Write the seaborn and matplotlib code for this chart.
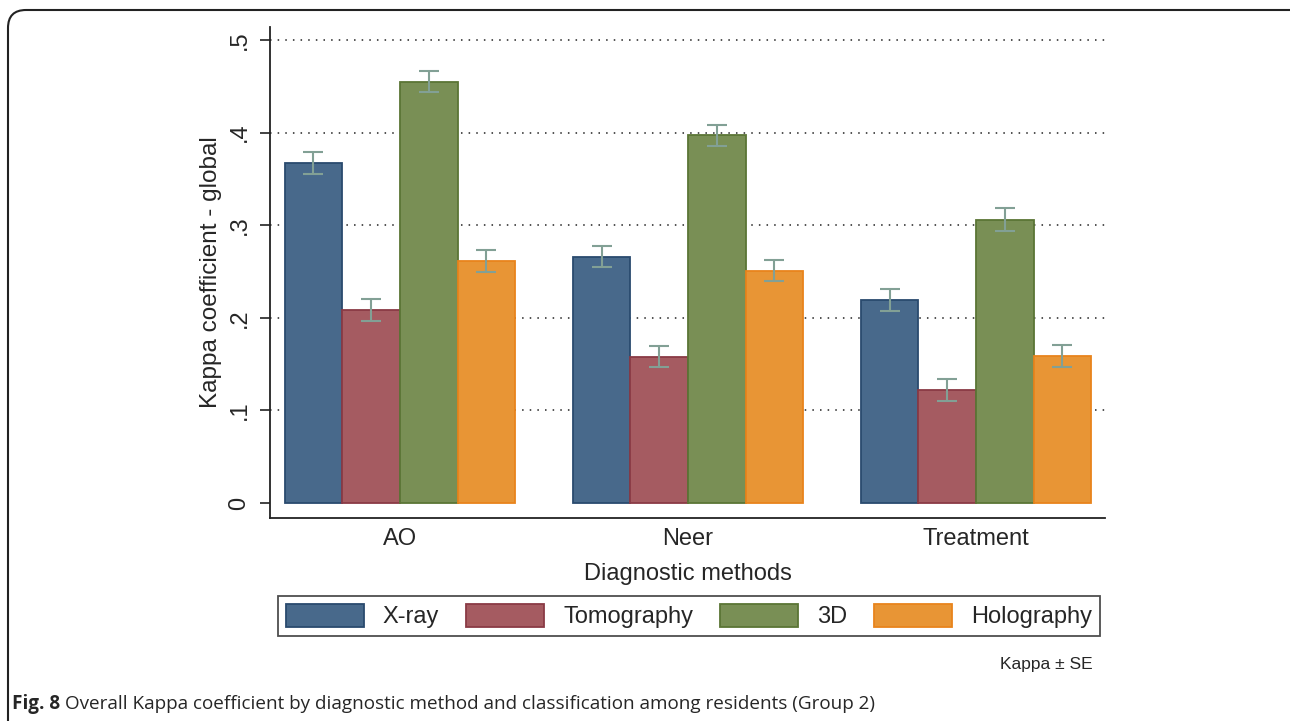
import pandas as pd
import seaborn as sns
import matplotlib.pyplot as plt
from matplotlib.patches import FancyBboxPatch, Patch

# --- data ---
classifications = ["AO", "Neer", "Treatment"]
methods = ["X-ray", "Tomography", "3D", "Holography"]
kappa_xray = [0.367, 0.266, 0.219]
kappa_tomo = [0.208, 0.158, 0.122]
kappa_3d = [0.455, 0.397, 0.306]
kappa_holo = [0.261, 0.251, 0.159]
se_xray = [0.012, 0.011, 0.012]
se_tomo = [0.012, 0.011, 0.012]
se_3d = [0.011, 0.011, 0.012]
se_holo = [0.012, 0.011, 0.012]

fill_colors = ["#48698b", "#a55b61", "#798f55", "#e89535"]
edge_colors = ["#2a4a6e", "#8a3a45", "#5b7535", "#e8841c"]
err_color = "#82a095"

rows = []
for m, vals, ses in zip(methods, [kappa_xray, kappa_tomo, kappa_3d, kappa_holo],
                        [se_xray, se_tomo, se_3d, se_holo]):
    for c, v, s in zip(classifications, vals, ses):
        rows.append({"Class": c, "Method": m, "Kappa": v, "SE": s})
df = pd.DataFrame(rows)

sns.set_style("white")
plt.rcParams['font.family'] = ['Liberation Sans', 'DejaVu Sans']

fig = plt.figure(figsize=(12.9, 7.21), dpi=100)
ax = fig.add_axes([0.2093, 0.2816, 0.8566 - 0.2093, 0.9626 - 0.2816])

sns.barplot(data=df, x="Class", y="Kappa", hue="Method", order=classifications,
            hue_order=methods, palette=fill_colors, errorbar=None, width=0.8,
            saturation=1, ax=ax, legend=False, zorder=2)

# bar edges + error bars from the bar positions seaborn drew
for cont, m, ec in zip(ax.containers, methods, edge_colors):
    sub = df[df["Method"] == m].set_index("Class").loc[classifications]
    xs = []
    for bar in cont:
        bar.set_edgecolor(ec)
        bar.set_linewidth(1.3)
        xs.append(bar.get_x() + bar.get_width() / 2)
    ax.errorbar(xs, sub["Kappa"].values, yerr=sub["SE"].values, fmt="none",
                ecolor=err_color, elinewidth=1.5, capsize=7, capthick=1.5, zorder=3)

ax.set_xlim(-0.451, 2.448)
ax.set_ylim(-0.0162, 0.514)
ax.set_yticks([0, 0.1, 0.2, 0.3, 0.4, 0.5])
ax.set_yticklabels(["0", ".1", ".2", ".3", ".4", ".5"], rotation=90, va="center")

# dotted gridlines (not at zero)
for yv in [0.1, 0.2, 0.3, 0.4, 0.5]:
    ax.axhline(yv, color="#222222", linestyle=(0, (1, 4)), linewidth=1.1, zorder=1)

for s in ["top", "right"]:
    ax.spines[s].set_visible(False)
ax.spines["left"].set_color("#222222")
ax.spines["bottom"].set_color("#222222")
ax.spines["left"].set_linewidth(1.3)
ax.spines["bottom"].set_linewidth(1.3)

ax.tick_params(axis="y", which="both", left=True, length=7, width=1.2,
               color="#222222", labelsize=17, pad=7)
ax.tick_params(axis="x", which="both", bottom=False, labelsize=17, pad=4)

ax.set_ylabel("Kappa coefficient - global", fontsize=17.5, labelpad=5)
ax.set_xlabel("Diagnostic methods", fontsize=17, labelpad=9)

handles = [Patch(facecolor=fc, edgecolor=ec, linewidth=1.3)
           for fc, ec in zip(fill_colors, edge_colors)]
leg = fig.legend(handles, methods, loc="center", bbox_to_anchor=(689 / 1290, 0.1456),
                 ncol=4, fontsize=17, handlelength=3.3, handleheight=1.1,
                 handletextpad=0.8, columnspacing=1.15, borderpad=0.35,
                 frameon=True, fancybox=False, edgecolor="#222222")
leg.get_frame().set_linewidth(1.3)

fig.text(1093 / 1290, (721 - 665) / 721, "Kappa \u00b1 SE", fontsize=12.5,
         ha="right", va="center")

# caption
cap1 = fig.text(12 / 1290, (721 - 704) / 721, "Fig. 8", fontsize=13.6, fontweight="bold",
                family="Open Sans", ha="left", va="center")
fig.canvas.draw()
bb = cap1.get_window_extent()
fig.text((bb.x1 + 5) / 1290, (721 - 704) / 721,
         "Overall Kappa coefficient by diagnostic method and classification among residents (Group 2)",
         fontsize=13.6, family="Open Sans", ha="left", va="center")

# rounded frame around the figure panel
frame = FancyBboxPatch((0.08, -1.0), 14.0, 7.11 + 1.0,
                       boxstyle="round,pad=0,rounding_size=0.18",
                       transform=fig.dpi_scale_trans, facecolor="none",
                       edgecolor="#222222", linewidth=1.5, clip_on=False)
fig.patches.append(frame)

plt.savefig("out.png", dpi=100)
